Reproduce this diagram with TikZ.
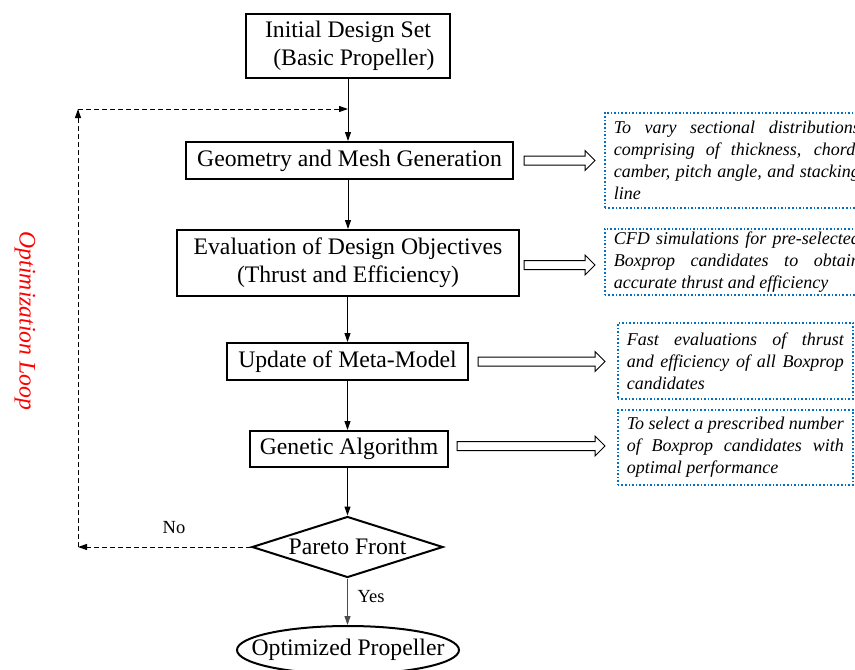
\documentclass[tikz,border=0pt]{standalone}
\usepackage{fontspec}
\setmainfont{Liberation Serif}
\usetikzlibrary{shapes.geometric,arrows.meta,calc}
\definecolor{sideblue}{RGB}{0,112,192}
\newcommand\hollowarrow[2]{%
  \draw[harrow] let \p1=#1, \p2=#2 in
    (\x1,\y1+4.5pt) -- (\x2-10pt,\y1+4.5pt) -- (\x2-10pt,\y1+10pt) -- (\x2,\y1)
    -- (\x2-10pt,\y1-10pt) -- (\x2-10pt,\y1-4.5pt) -- (\x1,\y1-4.5pt) -- cycle;}
\begin{document}
\begin{tikzpicture}[x=1pt,y=-1pt,
  mainfont/.style={font=\fontsize{23.7}{28}\selectfont},
  mainbox/.style={draw, line width=2pt, mainfont, align=center, inner sep=0pt},
  sidebox/.style={draw=sideblue, line width=1.6pt, dotted, align=justify,
     font=\fontsize{18}{22}\selectfont\itshape, inner xsep=9pt, inner ysep=0pt, anchor=north west},
  flow/.style={-{Triangle[length=9pt,width=6pt]}, line width=1pt},
  loop/.style={-{Triangle[length=9pt,width=6pt]}, line width=1pt, dash pattern=on 5pt off 3pt},
  harrow/.style={draw, line width=1pt, fill=white},
  lbl/.style={font=\fontsize{18.5}{22}\selectfont, inner sep=0pt}]
\useasboundingbox (0,0) rectangle (855,670);
\clip (0,0) rectangle (855,670);

% main chain
\node[mainbox, minimum width=204pt, minimum height=64pt] (init) at (348,46)
  {Initial Design Set\\\hspace*{0.5em}(Basic Propeller)};
\node[mainbox, minimum width=327pt, minimum height=37pt] (geo) at (349.5,160.5)
  {Geometry and Mesh Generation};
\node[mainbox, minimum width=342pt, minimum height=66pt] (eval) at (348,263)
  {Evaluation of Design Objectives\\(Thrust and Efficiency)};
\node[mainbox, minimum width=241pt, minimum height=37pt] (upd) at (347.5,361.5)
  {Update of Meta-Model};
\node[mainbox, minimum width=198pt, minimum height=36pt] (ga) at (349,449)
  {Genetic Algorithm};
\node[draw, diamond, line width=2pt, mainfont, inner sep=0pt, aspect=3.13,
  minimum width=191pt, minimum height=61pt] (dia) at (347.5,547)
  {\makebox[0pt]{Pareto Front}};
\node[draw, ellipse, line width=2pt, mainfont, inner sep=0pt,
  minimum width=222pt, minimum height=48pt] (opt) at (348,650)
  {\makebox[0pt]{Optimized Propeller}};

% side notes
\node[sidebox, text width=246pt, minimum height=95pt] (s1) at (604,112)
  {\hyphenpenalty=10000 To vary sectional distributions\linebreak comprising of thickness, chord,\linebreak camber, pitch angle, and stacking\linebreak line};
\node[sidebox, text width=246pt, minimum height=66pt] (s2) at (604,228)
  {\hyphenpenalty=10000 CFD simulations for pre-selected\linebreak Boxprop candidates to obtain\linebreak accurate thrust and efficiency};
\node[sidebox, text width=217pt, minimum height=76pt] (s3) at (617,322)
  {\hyphenpenalty=10000 Fast evaluations of thrust\linebreak and efficiency of all Boxprop\linebreak candidates};
\node[sidebox, text width=217pt, minimum height=75pt] (s4) at (617,409)
  {\hyphenpenalty=10000 To select a prescribed number\linebreak of Boxprop candidates with\linebreak optimal performance};

% hollow arrows
\hollowarrow{($(geo.east)+(10,0)$)}{($(s1.west |- geo.east)+(-9,0)$)}
\hollowarrow{($(eval.east)+(4,2)$)}{($(s2.west |- eval.east)+(-9,2)$)}
\hollowarrow{($(upd.east)+(9,0)$)}{($(s3.west |- upd.east)+(-12,0)$)}
\hollowarrow{($(ga.east)+(8,-3)$)}{($(s4.west |- ga.east)+(-12,-3)$)}

% flow arrows
\draw[flow] (init.south) -- (init.south |- geo.north);
\draw[flow] (geo.south -| init.south) -- (init.south |- eval.north);
\draw[flow] (eval.south -| upd.south) -- (upd.north);
\draw[flow] (upd.south) -- (upd.south |- ga.north);
\draw[flow] (ga.south -| dia.north) -- (dia.north);
\draw[-{Triangle[length=9pt,width=6pt]}, line width=0.8pt, black!70] (dia.south) -- (dia.south |- opt.north);

% optimization loop
\coordinate (lt) at (78,109);
\draw[loop] (dia.west) -- (dia.west -| lt) coordinate (lb);
\draw[loop] (lb) -- (lt);
\draw[loop] (lt) -- (lt -| init.south);

% labels
\node[lbl] (no) at (174,528) {No};
\node[lbl] (yes) at (371,597) {Yes};
\node[font=\fontsize{23.7}{28}\selectfont\itshape, text=red, rotate=-90, inner sep=0pt] (ol) at (25,321) {Optimization Loop};
\end{tikzpicture}
\end{document}
